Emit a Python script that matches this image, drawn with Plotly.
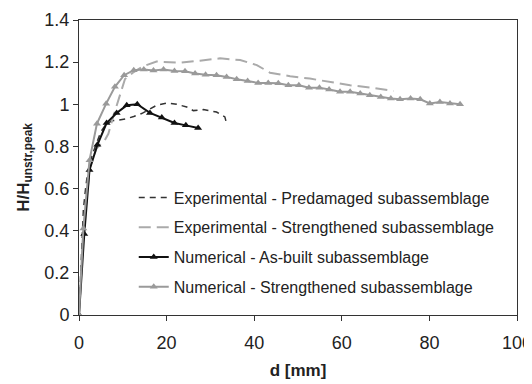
import plotly.graph_objects as go

# Numerical - Strengthened subassemblage (grey triangles)
num_str_d = [0, 1.0, 2.4, 4.1, 6.2, 8.2, 10.3, 12.5, 14.8, 17.0, 19.3, 21.8, 24.2, 26.5, 28.9,
             31.4, 33.7, 36.0, 38.5, 40.9, 43.2, 45.5, 47.8, 50.2, 52.5, 54.9, 57.1, 59.6,
             61.9, 64.2, 66.4, 68.9, 71.2, 73.3, 75.7, 77.9, 80.1, 82.4, 84.7, 87.0]
num_str_h = [0, 0.41, 0.735, 0.908, 1.003, 1.083, 1.138, 1.162, 1.165, 1.160, 1.165, 1.158, 1.157,
             1.146, 1.140, 1.138, 1.130, 1.119, 1.111, 1.101, 1.101, 1.100, 1.090, 1.090, 1.079,
             1.079, 1.070, 1.059, 1.059, 1.051, 1.043, 1.035, 1.027, 1.024, 1.027, 1.024, 1.004,
             1.011, 1.004, 1.000]

# Numerical - As-built subassemblage (black triangles)
num_ab_d = [0, 1.2, 2.4, 4.2, 6.3, 8.6, 10.9, 13.3, 16.2, 18.9, 21.8, 24.4, 27.2]
num_ab_h = [0, 0.384, 0.688, 0.808, 0.911, 0.959, 0.995, 1.000, 0.959, 0.937, 0.911, 0.900, 0.887]

# Experimental - Predamaged subassemblage (black dashed)
exp_pre_d = [0, 0.5, 1.0, 1.5, 2.0, 3.0, 4.0, 5.0, 6.0, 7.5, 9.0, 10.9, 12.5, 14.3, 16.0, 17.7,
             20.0, 22.3, 24.6, 26.1, 28.4, 29.2, 31.4, 33.3, 33.6]
exp_pre_h = [0, 0.30, 0.50, 0.60, 0.68, 0.76, 0.82, 0.87, 0.90, 0.922, 0.925, 0.932, 0.942, 0.956,
             0.975, 0.995, 1.006, 1.000, 0.987, 0.970, 0.975, 0.971, 0.963, 0.940, 0.916]

# Experimental - Strengthened subassemblage (grey dashed)
exp_str_d = [0, 1.0, 2.5, 4.0, 5.9, 6.7, 7.8, 9.4, 10.5, 12.3, 14.6, 17.7, 20.0, 23.0, 27.6,
             32.2, 36.8, 40.6, 43.6, 48.2, 52.7, 57.3, 61.9, 66.4, 71.8]
exp_str_h = [0, 0.40, 0.70, 0.79, 0.83, 0.86, 0.94, 1.05, 1.12, 1.15, 1.18, 1.203, 1.200, 1.197,
             1.207, 1.218, 1.210, 1.186, 1.150, 1.133, 1.122, 1.106, 1.090, 1.080, 1.063]

BLACK = "#111111"
GREY = "#9a9a9a"
GREY_L = "#aaaaaa"

fig = go.Figure()
fig.add_trace(go.Scatter(x=exp_pre_d, y=exp_pre_h, mode="lines", legendgroup="a",
                         name="Experimental - Predamaged subassemblage",
                         line=dict(color="#333333", width=1.5, dash="6px,5px")))
fig.add_trace(go.Scatter(x=exp_str_d, y=exp_str_h, mode="lines", legendgroup="b",
                         name="Experimental - Strengthened subassemblage",
                         line=dict(color=GREY_L, width=2, dash="12px,6px")))
fig.add_trace(go.Scatter(x=num_ab_d, y=num_ab_h, mode="lines+markers", legendgroup="c",
                         name="Numerical - As-built subassemblage",
                         line=dict(color=BLACK, width=2),
                         marker=dict(symbol="triangle-up", size=7, color=BLACK)))
fig.add_trace(go.Scatter(x=num_str_d, y=num_str_h, mode="lines+markers", legendgroup="d",
                         name="Numerical - Strengthened subassemblage",
                         line=dict(color=GREY, width=2),
                         marker=dict(symbol="triangle-up", size=7, color=GREY)))

axis_common = dict(showline=True, linecolor="#333333", linewidth=1, mirror=True,
                   ticks="outside", ticklen=5, tickcolor="#333333", showgrid=False,
                   zeroline=False, automargin=False,
                   tickfont=dict(size=18, color="#222222"))

# page body adds an 8px offset, so the figure is sized/margined to compensate
fig.update_layout(
    width=530, height=376,
    margin=dict(l=71, r=21, t=12, b=69),
    plot_bgcolor="white", paper_bgcolor="white",
    font=dict(family="Liberation Sans, Arial, sans-serif", color="#222222"),
    xaxis=dict(range=[0, 100], dtick=20, tick0=0, ticklabelstandoff=6,
               title=dict(text="<b>d [mm]</b>", font=dict(size=17), standoff=12),
               **axis_common),
    yaxis=dict(range=[0, 1.4], dtick=0.2, tick0=0,
               title=dict(text="<b>H/H<sub>unstr,peak</sub></b>", font=dict(size=17), standoff=10),
               **axis_common),
    legend=dict(x=0.125, y=0.456, xanchor="left", yanchor="top",
                bgcolor="rgba(0,0,0,0)", font=dict(size=16, color="#222222"),
                itemwidth=30, tracegroupgap=6),
    showlegend=True,
)

fig.write_html("out.html")
